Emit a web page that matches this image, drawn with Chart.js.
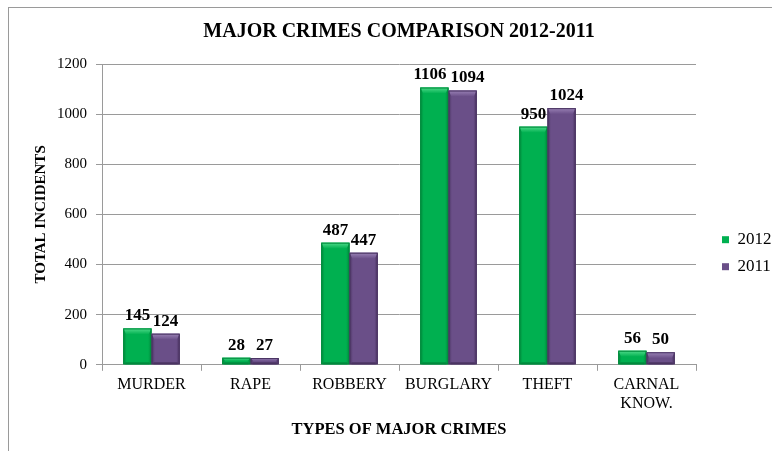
<!DOCTYPE html>
<html>
<head>
<meta charset="utf-8">
<script src="https://cdn.jsdelivr.net/npm/chart.js@4.4.0/dist/chart.umd.min.js"></script>
<style>
  body { margin: 0; background: #fff; }
  #wrap { position: relative; width: 772px; height: 451px; }
  #frame { position: absolute; left: 8px; top: 7px; right: 0; bottom: 0;
           border-top: 1px solid #9a9a9a; border-left: 1px solid #9a9a9a; }
  #crimeChart { position: absolute; left: 0; top: 0; }
</style>
</head>
<body>
<div id="wrap">
  <div id="frame"></div>
  <canvas id="crimeChart" width="772" height="451"></canvas>
</div>
<script>
const crimeTypes = ['MURDER', 'RAPE', 'ROBBERY', 'BURGLARY', 'THEFT', ['CARNAL', 'KNOW.']];
const incidents2012 = [145, 28, 487, 1106, 950, 56];
const incidents2011 = [124, 27, 447, 1094, 1024, 50];
const yTicks = [0, 200, 400, 600, 800, 1000, 1200];

const serif = "'Liberation Serif', 'Times New Roman', serif";

// colours: base, light highlight, dark edge
const greenShade = ['#00b050', '#4fdb8a', '#008a3c'];
const purpleShade = ['#6a4f88', '#9a82b6', '#4a3462'];

// bevel look on top of plain bars + value labels
const bevelLabels = {
  id: 'bevelLabels',
  afterDatasetsDraw(chart) {
    const ctx = chart.ctx;
    chart.data.datasets.forEach((ds, di) => {
      const meta = chart.getDatasetMeta(di);
      const shade = ds.shade;
      meta.data.forEach((bar, i) => {
        const left = bar.x - bar.width / 2, right = bar.x + bar.width / 2;
        const top = bar.y, bottom = bar.base;
        const h = bottom - top;
        ctx.save();
        // side edges
        let g = ctx.createLinearGradient(left, 0, right, 0);
        g.addColorStop(0, shade[2]);
        g.addColorStop(0.12, shade[0]);
        g.addColorStop(0.88, shade[0]);
        g.addColorStop(1, shade[2]);
        ctx.fillStyle = g;
        ctx.fillRect(left, top, right - left, h);
        // top highlight
        const band = Math.min(6, h / 2);
        let g2 = ctx.createLinearGradient(0, top, 0, top + band);
        g2.addColorStop(0, shade[1]);
        g2.addColorStop(1, shade[0]);
        ctx.fillStyle = g2;
        ctx.beginPath();
        ctx.moveTo(left, top);
        ctx.lineTo(right, top);
        ctx.lineTo(right - 3, top + band);
        ctx.lineTo(left + 3, top + band);
        ctx.closePath();
        ctx.fill();
        if (h > 6) {
          ctx.fillStyle = shade[2];
          ctx.fillRect(left + 2, bottom - 2, right - left - 4, 2);
        }
        ctx.strokeStyle = shade[2];
        ctx.lineWidth = 1;
        ctx.strokeRect(left + 0.5, top + 0.5, right - left - 1, h - 1);
        // value label, pushed outward when wider than the bar
        ctx.fillStyle = '#000';
        ctx.font = 'bold 17px ' + serif;
        ctx.textAlign = 'center';
        ctx.textBaseline = 'bottom';
        const txt = String(ds.data[i]);
        const tw = ctx.measureText(txt).width;
        let dx = 0;
        if (tw > bar.width) dx = ((tw - bar.width) / 2 + 2) * (di === 0 ? -1 : 1);
        ctx.fillText(txt, bar.x + dx, top - 4);
        ctx.restore();
      });
    });
  }
};

new Chart(document.getElementById('crimeChart'), {
  type: 'bar',
  data: {
    labels: crimeTypes,
    datasets: [
      { label: '2012', data: incidents2012, backgroundColor: greenShade[0], borderColor: greenShade[2], shade: greenShade },
      { label: '2011', data: incidents2011, backgroundColor: purpleShade[0], borderColor: purpleShade[2], shade: purpleShade }
    ]
  },
  options: {
    responsive: false,
    animation: false,
    devicePixelRatio: 1,
    categoryPercentage: 0.57,
    barPercentage: 1.0,
    layout: { padding: { left: 32, right: 0, top: 14, bottom: 11 } },
    plugins: {
      tooltip: { enabled: false },
      title: {
        display: true,
        fullSize: false,
        text: 'MAJOR CRIMES COMPARISON 2012-2011',
        color: '#000',
        font: { family: serif, size: 20, weight: 'bold' },
        padding: { top: 6, bottom: 20 }
      },
      legend: {
        position: 'right',
        align: 'center',
        maxWidth: 60,
        title: { display: true, text: ' ', font: { size: 12 }, padding: { top: 0, bottom: 38 } },
        labels: {
          color: '#000',
          font: { family: serif, size: 17 },
          boxWidth: 7,
          boxHeight: 7,
          padding: 10
        }
      }
    },
    scales: {
      x: {
        offset: true,
        grid: { display: true, drawOnChartArea: false, offset: true, color: '#9a9a9a', tickLength: 6 },
        border: { color: '#9a9a9a' },
        ticks: { color: '#000', font: { family: serif, size: 16 }, padding: 4, maxRotation: 0, autoSkip: false },
        title: {
          display: true, text: 'TYPES OF MAJOR CRIMES', color: '#000',
          font: { family: serif, size: 16.5, weight: 'bold' }, padding: { top: 3, bottom: 0 }
        }
      },
      y: {
        min: 0,
        max: 1200,
        afterBuildTicks: (axis) => { axis.ticks = yTicks.map(v => ({ value: v })); },
        afterFit: (axis) => { axis.width = 70; },
        grid: { color: '#9a9a9a', tickLength: 6 },
        border: { color: '#9a9a9a' },
        ticks: { color: '#000', font: { family: serif, size: 15 }, padding: 9, callback: (v) => String(v) },
        title: {
          display: true, text: 'TOTAL INCIDENTS', color: '#000',
          font: { family: serif, size: 15, weight: 'bold' }, padding: { top: 0, bottom: 0 }
        }
      },
      gap: {
        type: 'linear',
        position: 'right',
        display: true,
        grid: { display: false },
        border: { display: false },
        ticks: { display: false },
        afterFit: (axis) => { axis.width = 16; }
      }
    }
  },
  plugins: [bevelLabels]
});
</script>
</body>
</html>
